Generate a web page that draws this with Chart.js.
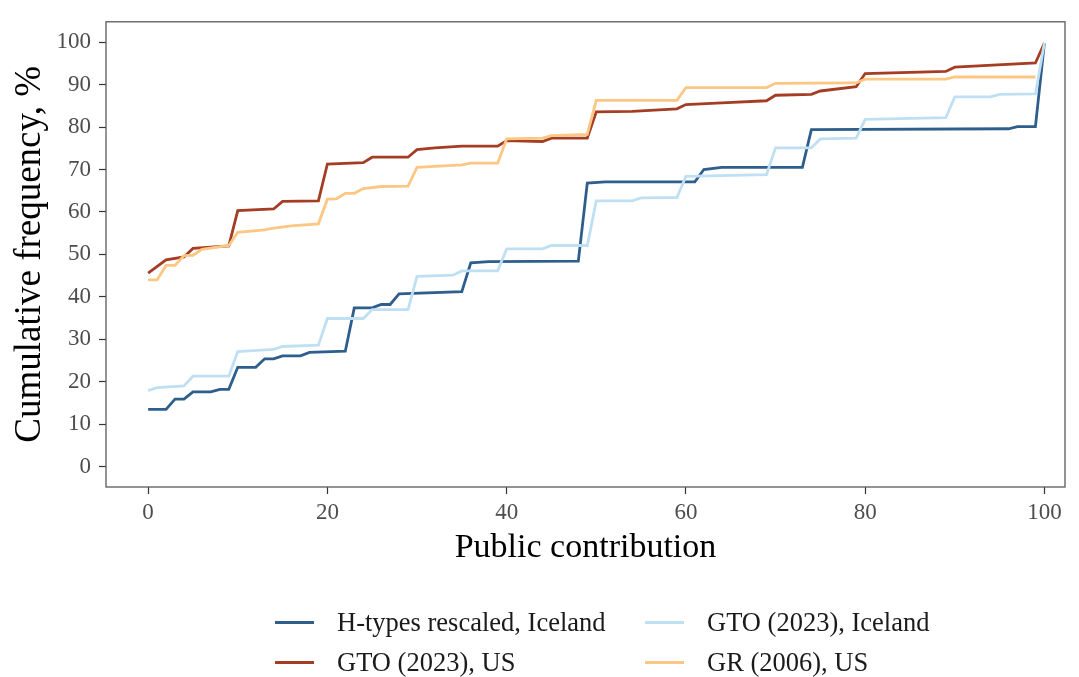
<!DOCTYPE html>
<html>
<head>
<meta charset="utf-8">
<script src="https://cdn.jsdelivr.net/npm/chart.js@4"></script>
<style>
  html, body { margin: 0; padding: 0; background: #fff; }
  #wrap { position: relative; width: 1079px; height: 677px; }
  #legend { position: absolute; left: 0; top: 0; width: 1079px; height: 677px; pointer-events: none;
            font-family: "Liberation Serif", "Times New Roman", serif; font-size: 26.5px; color: #1a1a1a; }
  .item { position: absolute; display: flex; align-items: center; height: 30px; white-space: nowrap; }
  .swatch { width: 39px; height: 3px; margin-right: 23px; }
</style>
</head>
<body>
<div id="wrap">
  <canvas id="chart"></canvas>
  <div id="legend"></div>
</div>
<script>
// === Data (breakpoints of each cumulative curve, x = public contribution, y = %) ===
const hTypesX = [0, 2, 3, 4, 5, 7, 8, 9, 10, 12, 13, 14, 15, 17, 18, 22, 23, 25, 26, 27, 28, 35, 36, 38, 48, 49, 51, 61, 62, 64, 73, 74, 96, 97, 99, 100];
const hTypesY = [13.5, 13.5, 15.9, 15.9, 17.6, 17.6, 18.2, 18.2, 23.4, 23.4, 25.4, 25.4, 26.1, 26.1, 26.9, 27.2, 37.4, 37.4, 38.2, 38.2, 40.7, 41.2, 48.0, 48.3, 48.4, 66.8, 67.1, 67.1, 70.0, 70.5, 70.5, 79.4, 79.6, 80.1, 80.1, 99.8];

const gtoIceX = [0, 1, 4, 5, 9, 10, 14, 15, 19, 20, 24, 25, 29, 30, 34, 35, 39, 40, 44, 45, 49, 50, 54, 55, 59, 60, 69, 70, 74, 75, 79, 80, 89, 90, 94, 95, 99, 100];
const gtoIceY = [17.9, 18.6, 19.0, 21.3, 21.3, 27.1, 27.6, 28.3, 28.6, 34.9, 34.9, 37.0, 37.0, 44.8, 45.1, 46.1, 46.1, 51.3, 51.3, 52.1, 52.1, 62.6, 62.6, 63.3, 63.4, 68.4, 68.8, 75.1, 75.1, 77.2, 77.4, 81.8, 82.2, 87.1, 87.1, 87.7, 87.8, 99.8];

const gtoUsX = [0, 2, 4, 5, 9, 10, 14, 15, 19, 20, 24, 25, 29, 30, 32, 35, 39, 40, 44, 45, 49, 50, 54, 59, 60, 64, 69, 70, 74, 75, 79, 80, 89, 90, 99, 100];
const gtoUsY = [45.6, 48.7, 49.4, 51.4, 52.0, 60.3, 60.7, 62.5, 62.6, 71.3, 71.6, 72.9, 72.9, 74.7, 75.1, 75.5, 75.5, 76.8, 76.6, 77.4, 77.4, 83.6, 83.7, 84.3, 85.3, 85.7, 86.2, 87.5, 87.7, 88.5, 89.5, 92.6, 93.1, 94.1, 95.1, 99.8];

const grUsX = [0, 1, 2, 3, 4, 5, 6, 9, 10, 13, 14, 16, 19, 20, 21, 22, 23, 24, 26, 29, 30, 35, 36, 39, 40, 44, 45, 49, 50, 59, 60, 69, 70, 79, 80, 89, 90, 99];
const grUsY = [44.0, 44.0, 47.4, 47.4, 49.7, 49.8, 51.2, 52.1, 55.2, 55.8, 56.2, 56.7, 57.2, 63.0, 63.1, 64.4, 64.4, 65.5, 66.0, 66.1, 70.5, 71.1, 71.5, 71.5, 77.2, 77.4, 78.0, 78.3, 86.3, 86.3, 89.3, 89.3, 90.3, 90.4, 91.3, 91.3, 91.8, 91.8];

const seriesNames = ['H-types rescaled, Iceland', 'GTO (2023), US', 'GTO (2023), Iceland', 'GR (2006), US'];
const seriesColors = ['#2f5e8c', '#a53d24', '#bfe0f3', '#fcc783'];
const xTicks = [0, 20, 40, 60, 80, 100];
const yTicks = [0, 10, 20, 30, 40, 50, 60, 70, 80, 90, 100];

const xs = [hTypesX, gtoUsX, gtoIceX, grUsX];
const ys = [hTypesY, gtoUsY, gtoIceY, grUsY];

// ggplot draws later layers on top; chart.js draws first dataset on top, so reverse
const datasets = seriesNames.map((name, i) => ({
  label: name,
  data: xs[i].map((x, j) => ({ x, y: ys[i][j] })),
  borderColor: seriesColors[i],
  borderWidth: 2.8,
  pointRadius: 0,
  tension: 0,
  fill: false
})).reverse();

const serif = '"Liberation Serif", "Times New Roman", serif';

// panel border drawn on top, like theme_bw
const panelBorder = {
  id: 'panelBorder',
  afterDatasetsDraw(chart) {
    const { ctx, chartArea: a } = chart;
    ctx.save();
    ctx.strokeStyle = '#5a5a5a';
    ctx.lineWidth = 1.3;
    ctx.strokeRect(a.left, a.top, a.right - a.left, a.bottom - a.top);
    ctx.restore();
  }
};

new Chart(document.getElementById('chart'), {
  type: 'line',
  data: { datasets },
  options: {
    responsive: true,
    maintainAspectRatio: false,
    animation: false,
    layout: { padding: { top: 10, right: 14, bottom: 109, left: 0 } },
    plugins: { legend: { display: false }, tooltip: { enabled: false } },
    scales: {
      x: {
        type: 'linear',
        min: -4.7,
        max: 102.3,
        afterBuildTicks: s => { s.ticks = xTicks.map(v => ({ value: v })); },
        afterFit: s => { s.height = 81; },
        grid: { drawOnChartArea: false, drawTicks: true, tickLength: 7, tickColor: '#333', tickWidth: 1.2 },
        border: { display: false },
        ticks: { color: '#4d4d4d', font: { family: serif, size: 23 }, padding: 5, maxRotation: 0 },
        title: { display: true, text: 'Public contribution', color: '#000', font: { family: serif, size: 34 }, padding: 0 }
      },
      y: {
        type: 'linear',
        min: -4.8,
        max: 104.8,
        afterBuildTicks: s => { s.ticks = yTicks.map(v => ({ value: v })); },
        afterFit: s => { s.width = 106; },
        grid: { drawOnChartArea: false, drawTicks: true, tickLength: 7, tickColor: '#333', tickWidth: 1.2 },
        border: { display: false },
        ticks: { color: '#4d4d4d', font: { family: serif, size: 23 }, padding: 8 },
        title: { display: true, text: 'Cumulative frequency, %', color: '#000', font: { family: serif, size: 37 }, padding: { top: 8, bottom: 0 } }
      }
    }
  },
  plugins: [panelBorder]
});

// === Legend (2 columns, filled by column like ggplot) ===
const legend = document.getElementById('legend');
const legendPos = [[275, 607], [275, 647], [645, 607], [645, 647]];
seriesNames.forEach((name, i) => {
  const item = document.createElement('div');
  item.className = 'item';
  item.style.left = legendPos[i][0] + 'px';
  item.style.top = legendPos[i][1] + 'px';
  item.innerHTML = `<span class="swatch" style="background:${seriesColors[i]}"></span><span>${name}</span>`;
  legend.appendChild(item);
});
</script>
</body>
</html>
